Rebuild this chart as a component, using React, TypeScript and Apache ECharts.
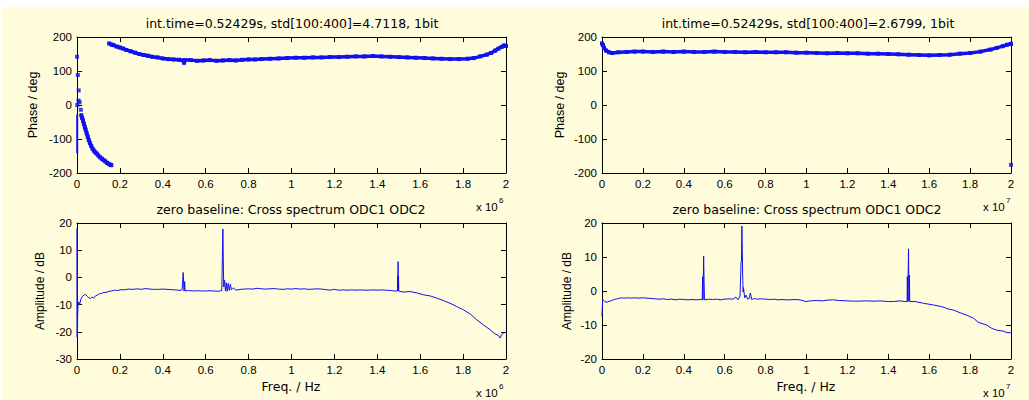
import React, { useEffect, useRef } from "react";
import * as echarts from "echarts";

// ---------- DATA (frequency in units of the axis exponent) ----------
const titlesTop = [
  "int.time=0.52429s, std[100:400]=4.7118, 1bit",
  "int.time=0.52429s, std[100:400]=2.6799, 1bit",
];
const titlesBottom = [
  "zero baseline: Cross spectrum ODC1 ODC2",
  "zero baseline: Cross spectrum ODC1 ODC2",
];
const exponents = ["6", "7"];
const freqTicks = [0, 0.2, 0.4, 0.6, 0.8, 1, 1.2, 1.4, 1.6, 1.8, 2];
const phaseTicks = [-200, -100, 0, 100, 200];
const ampTicksLeft = [-30, -20, -10, 0, 10, 20];
const ampTicksRight = [-20, -10, 0, 10, 20];

// Top-left phase: isolated points near DC
const phaseL0: [number, number][] = [
  [0, 142], [0.004, 88], [0.008, 43], [0.007, 13], [0.001, 0], [0.012, 8], [0.018, -14],
];
// near-DC vertical trace
const phaseL0b: [number, number][] = [
  [0.001, -28], [0.001, -142],
];
// Top-left phase: low-frequency branch
const phaseL1: [number, number][] = [
  [0.020, -30], [0.024, -38], [0.028, -46], [0.032, -55], [0.036, -64], [0.040, -72],
  [0.045, -83], [0.050, -93], [0.055, -103], [0.060, -112], [0.066, -120], [0.072, -128],
  [0.078, -134], [0.085, -139], [0.092, -143], [0.100, -149], [0.108, -154], [0.116, -158],
  [0.124, -162], [0.132, -166], [0.140, -170], [0.148, -173], [0.156, -176], [0.160, -177],
];
// Top-left phase: main branch
const phaseL2: [number, number][] = [
  [0.150, 181], [0.160, 178], [0.170, 176], [0.185, 172], [0.200, 169], [0.215, 166],
  [0.230, 162], [0.250, 158], [0.270, 154], [0.290, 150], [0.310, 147], [0.330, 145],
  [0.350, 142], [0.375, 140], [0.400, 137], [0.425, 135], [0.450, 134], [0.475, 133],
  [0.495, 131], [0.499, 124], [0.503, 132], [0.530, 132], [0.560, 130], [0.590, 131],
  [0.620, 132], [0.650, 130], [0.680, 131], [0.710, 132], [0.740, 131], [0.770, 133],
  [0.800, 134], [0.830, 134], [0.860, 135], [0.900, 136], [0.940, 137], [0.980, 138],
  [1.020, 139], [1.060, 139], [1.100, 140], [1.140, 140], [1.180, 141], [1.220, 141],
  [1.260, 142], [1.300, 143], [1.340, 143], [1.380, 144], [1.420, 143], [1.460, 142],
  [1.500, 141], [1.540, 140], [1.580, 139], [1.620, 138], [1.660, 137], [1.700, 136],
  [1.740, 135], [1.780, 135], [1.820, 136], [1.850, 138], [1.880, 143], [1.910, 148],
  [1.930, 153], [1.950, 160], [1.965, 166], [1.980, 171], [1.990, 175], [2.000, 174],
];
// Top-right phase
const phaseR1: [number, number][] = [
  [0.000, 181], [0.005, 176], [0.010, 168], [0.020, 160], [0.035, 155], [0.050, 153],
  [0.080, 155], [0.120, 156], [0.160, 157], [0.200, 157], [0.250, 156], [0.300, 157],
  [0.350, 156], [0.400, 157], [0.450, 156], [0.500, 156], [0.550, 157], [0.600, 156],
  [0.650, 156], [0.700, 155], [0.750, 156], [0.800, 155], [0.850, 155], [0.900, 155],
  [0.950, 154], [1.000, 154], [1.050, 153], [1.100, 152], [1.150, 153], [1.200, 152],
  [1.250, 152], [1.300, 151], [1.350, 151], [1.400, 150], [1.450, 149], [1.500, 148],
  [1.550, 147], [1.600, 146], [1.650, 147], [1.700, 148], [1.750, 151], [1.800, 153],
  [1.850, 157], [1.900, 163], [1.930, 168], [1.960, 173], [1.980, 177], [2.000, 180],
];
const phaseR2: [number, number][] = [[2.0, -176]];

// Bottom-left amplitude
const ampL: [number, number][] = [
  [0.000, -22], [0.0005, 18], [0.001, 7], [0.0015, -8], [0.002, -22], [0.003, -14],
  [0.005, -10], [0.008, -9], [0.012, -10], [0.018, -8], [0.025, -7], [0.032, -6.5],
  [0.040, -6.3], [0.048, -7.0], [0.055, -7.5], [0.062, -7.8], [0.070, -7.2], [0.078, -7.6],
  [0.086, -6.8], [0.095, -6.5], [0.105, -6.0], [0.115, -5.9], [0.125, -5.5], [0.135, -5.6],
  [0.145, -5.2], [0.160, -5.0], [0.175, -4.7], [0.190, -4.8], [0.205, -4.5], [0.220, -4.6],
  [0.240, -4.3], [0.260, -4.4], [0.280, -4.2], [0.300, -4.4], [0.320, -4.1], [0.340, -4.3],
  [0.360, -4.4], [0.380, -4.4], [0.400, -4.3], [0.420, -4.4], [0.440, -4.5], [0.460, -4.6],
  [0.480, -4.8], [0.490, -4.5], [0.495, 1.8], [0.497, 1.8], [0.499, -5.0], [0.502, -1.5],
  [0.504, -5.0], [0.520, -4.8], [0.540, -5.0], [0.560, -4.9], [0.580, -5.0], [0.600, -5.0],
  [0.620, -4.9], [0.640, -5.0], [0.660, -5.1], [0.675, -4.8], [0.680, 17.8], [0.682, 7.0],
  [0.684, -3.5], [0.688, -1.0], [0.692, -5.0], [0.696, -2.0], [0.700, -5.1], [0.705, -2.2],
  [0.710, -4.8], [0.715, -2.5], [0.720, -4.6], [0.730, -3.8], [0.740, -4.7], [0.760, -4.4],
  [0.780, -4.3], [0.800, -4.2], [0.820, -4.3], [0.840, -4.0], [0.860, -4.2], [0.880, -4.3],
  [0.900, -4.2], [0.920, -4.1], [0.940, -4.3], [0.960, -4.4], [0.980, -4.2], [1.000, -4.3],
  [1.020, -4.1], [1.040, -4.3], [1.060, -4.2], [1.080, -4.4], [1.100, -4.3], [1.120, -4.2],
  [1.140, -4.3], [1.160, -4.5], [1.180, -4.7], [1.200, -4.4], [1.220, -4.7], [1.240, -4.6],
  [1.260, -4.7], [1.280, -4.6], [1.300, -4.7], [1.320, -4.6], [1.340, -4.7], [1.360, -4.7],
  [1.380, -4.6], [1.400, -4.7], [1.420, -4.6], [1.440, -4.7], [1.460, -4.8], [1.480, -5.0],
  [1.494, -5.0], [1.495, 0.5], [1.496, -5.0], [1.497, 5.8], [1.498, -5.0], [1.499, 0.5],
  [1.500, -5.0], [1.510, -5.2], [1.521, -5.4], [1.552, -5.2], [1.584, -5.7], [1.615, -6.4],
  [1.646, -6.8], [1.677, -7.6], [1.708, -8.5], [1.739, -9.5], [1.770, -10.7], [1.801, -11.9],
  [1.832, -13.4], [1.864, -15.6], [1.894, -17.4], [1.925, -19.2], [1.949, -20.8], [1.964, -21.3],
  [1.972, -22.3], [1.980, -21.0], [1.988, -20.5], [2.000, -20.1],
];

// Bottom-right amplitude
const ampR: [number, number][] = [
  [0.000, -7.5], [0.003, -2.4], [0.008, -2.8], [0.015, -3.2], [0.025, -3.3], [0.035, -3.0],
  [0.045, -2.9], [0.055, -2.6], [0.065, -2.4], [0.080, -2.2], [0.095, -2.0], [0.110, -2.1],
  [0.125, -2.0], [0.140, -2.1], [0.160, -2.0], [0.180, -2.1], [0.200, -2.0], [0.220, -2.1],
  [0.240, -2.2], [0.260, -2.3], [0.280, -2.4], [0.300, -2.3], [0.320, -2.5], [0.340, -2.4],
  [0.360, -2.6], [0.380, -2.4], [0.400, -2.5], [0.420, -2.6], [0.440, -2.5], [0.460, -2.6],
  [0.480, -2.5], [0.490, -2.6], [0.492, 4.2], [0.494, -2.6], [0.497, 10.3], [0.499, 3.5],
  [0.501, -2.6], [0.520, -2.4], [0.540, -2.5], [0.560, -2.4], [0.580, -2.6], [0.600, -2.4],
  [0.620, -2.3], [0.640, -2.4], [0.655, -1.8], [0.665, -2.6], [0.675, -1.5], [0.680, 8.6],
  [0.682, 8.8], [0.684, 19.1], [0.686, 12.0], [0.688, 4.2], [0.690, -0.3], [0.692, 1.0],
  [0.694, -0.2], [0.698, -2.0], [0.705, -1.2], [0.712, -2.4], [0.720, -2.2], [0.725, -0.6],
  [0.728, -1.2], [0.732, -2.5], [0.745, -2.2], [0.760, -2.4], [0.780, -2.3], [0.800, -2.4],
  [0.820, -2.5], [0.840, -2.4], [0.860, -2.6], [0.880, -2.5], [0.900, -2.6], [0.920, -2.6],
  [0.940, -2.5], [0.968, -2.6], [0.997, -3.1], [1.020, -2.9], [1.050, -2.8], [1.080, -2.9],
  [1.100, -2.7], [1.131, -2.6], [1.160, -2.8], [1.200, -2.9], [1.240, -3.0], [1.294, -2.9],
  [1.330, -3.0], [1.360, -2.9], [1.400, -3.1], [1.424, -3.1], [1.457, -2.9], [1.480, -3.1],
  [1.492, -3.1], [1.493, 4.3], [1.495, -3.1], [1.497, 4.5], [1.499, 12.4], [1.501, -3.0],
  [1.503, 4.7], [1.505, -3.1], [1.531, -3.1], [1.571, -3.6], [1.620, -4.1], [1.661, -4.6],
  [1.694, -5.3], [1.718, -5.6], [1.751, -6.4], [1.783, -7.1], [1.816, -8.0], [1.840, -9.2],
  [1.881, -10.0], [1.906, -11.0], [1.930, -11.5], [1.962, -11.8], [1.979, -12.2], [2.000, -12.3],
];

// ---------- STYLE ----------
const FONT = "Liberation Sans, Arial, Helvetica, sans-serif";
const WIDE = "DejaVu Sans, Verdana, sans-serif";
const BLUE = "#1010f0";
const BG = "#fffcdc";

const grids = [
  { left: 77, top: 37, width: 429, height: 136 },
  { left: 602, top: 37, width: 409, height: 136 },
  { left: 77, top: 223, width: 429, height: 136 },
  { left: 602, top: 223, width: 409, height: 136 },
];

function fmt(v: number) {
  return String(Math.round(v * 10) / 10);
}

function makeXAxes(gi: number) {
  const base = {
    type: "value",
    gridIndex: gi,
    min: freqTicks[0],
    max: freqTicks[freqTicks.length - 1],
    interval: 0.2,
    splitLine: { show: false },
    axisLine: { show: true, onZero: false, lineStyle: { color: "#000", width: 1 } },
    axisTick: { show: true, inside: true, length: 5, lineStyle: { color: "#000" } },
  };
  return [
    {
      ...base,
      position: "bottom",
      axisLabel: {
        show: true,
        color: "#000",
        fontFamily: FONT,
        fontSize: 11.5,
        margin: 5,
        formatter: fmt,
        showMinLabel: true,
        showMaxLabel: true,
        hideOverlap: false,
      },
    },
    { ...base, position: "top", axisLabel: { show: false } },
  ];
}

function makeYAxes(gi: number, ticks: number[]) {
  const base = {
    type: "value",
    gridIndex: gi,
    min: ticks[0],
    max: ticks[ticks.length - 1],
    interval: ticks[1] - ticks[0],
    splitLine: { show: false },
    axisLine: { show: true, onZero: false, lineStyle: { color: "#000", width: 1 } },
    axisTick: { show: true, inside: true, length: 5, lineStyle: { color: "#000" } },
  };
  return [
    {
      ...base,
      position: "left",
      axisLabel: {
        show: true,
        color: "#000",
        fontFamily: FONT,
        fontSize: 11.5,
        margin: 5,
        showMinLabel: true,
        showMaxLabel: true,
      },
    },
    { ...base, position: "right", axisLabel: { show: false } },
  ];
}

function txt(
  x: number,
  y: number,
  text: string,
  size = 11,
  rotation = 0,
  align = "center",
  family = FONT
) {
  return {
    type: "text",
    x,
    y,
    rotation,
    silent: true,
    style: {
      text,
      fill: "#000",
      font: `${size}px ${family}`,
      align,
      verticalAlign: "middle",
    },
  };
}

export default function App() {
  const ref = useRef<HTMLDivElement>(null);

  useEffect(() => {
    if (!ref.current) return;
    const chart = echarts.init(ref.current, null, { renderer: "svg" });

    const xAxis = [0, 1, 2, 3].flatMap((i) => makeXAxes(i));
    const yAxis = [
      ...makeYAxes(0, phaseTicks),
      ...makeYAxes(1, phaseTicks),
      ...makeYAxes(2, ampTicksLeft),
      ...makeYAxes(3, ampTicksRight),
    ];

    const phaseLine = (data: [number, number][], gi: number) => ({
      type: "line",
      xAxisIndex: gi * 2,
      yAxisIndex: gi * 2,
      data,
      symbol: "rect",
      symbolSize: 4,
      showSymbol: true,
      itemStyle: { color: BLUE },
      lineStyle: { color: BLUE, width: 3.5 },
      silent: true,
      clip: false,
    });
    const phaseDots = (data: [number, number][], gi: number) => ({
      type: "scatter",
      xAxisIndex: gi * 2,
      yAxisIndex: gi * 2,
      data,
      symbol: "rect",
      symbolSize: 4,
      itemStyle: { color: BLUE },
      silent: true,
      clip: false,
    });
    const ampLine = (data: [number, number][], gi: number) => ({
      type: "line",
      xAxisIndex: gi * 2,
      yAxisIndex: gi * 2,
      data,
      showSymbol: false,
      symbol: "none",
      lineStyle: { color: BLUE, width: 1 },
      silent: true,
    });

    const series = [
      phaseDots(phaseL0, 0),
      { ...ampLine(phaseL0b, 0), lineStyle: { color: BLUE, width: 2 } },
      phaseLine(phaseL1, 0),
      phaseLine(phaseL2, 0),
      phaseLine(phaseR1, 1),
      phaseDots(phaseR2, 1),
      ampLine(ampL, 2),
      ampLine(ampR, 3),
    ];

    const graphic: any[] = [
      {
        type: "rect",
        shape: { x: 2, y: 7, width: 1027, height: 393 },
        style: { fill: BG },
        z: -10,
        silent: true,
      },
      txt(292, 23, titlesTop[0], 12.5, 0, "center", WIDE),
      txt(808, 23, titlesTop[1], 12.5, 0, "center", WIDE),
      txt(291, 209, titlesBottom[0], 12.5, 0, "center", WIDE),
      txt(807, 209, titlesBottom[1], 12.5, 0, "center", WIDE),
      txt(33, 105, "Phase / deg", 12.5, Math.PI / 2),
      txt(560, 105, "Phase / deg", 12.5, Math.PI / 2),
      txt(40, 291, "Amplitude / dB", 12, Math.PI / 2),
      txt(567, 291, "Amplitude / dB", 12, Math.PI / 2),
      txt(291, 386, "Freq. / Hz", 12.5, 0, "center", WIDE),
      txt(806, 386, "Freq. / Hz", 12.5, 0, "center", WIDE),
      // exponent labels
      txt(476, 207, "x 10", 11.5, 0, "left"),
      txt(499, 200, exponents[0], 8, 0, "left"),
      txt(476, 393, "x 10", 11.5, 0, "left"),
      txt(499, 386, exponents[0], 8, 0, "left"),
      txt(983, 207, "x 10", 11.5, 0, "left"),
      txt(1006, 200, exponents[1], 8, 0, "left"),
      txt(983, 393, "x 10", 11.5, 0, "left"),
      txt(1006, 386, exponents[1], 8, 0, "left"),
    ];

    chart.setOption({
      animation: false,
      backgroundColor: "#ffffff",
      grid: grids.map((g) => ({ ...g, containLabel: false })),
      xAxis,
      yAxis,
      series,
      graphic,
    });

    return () => chart.dispose();
  }, []);

  return (
    <div
      ref={ref}
      style={{ position: "absolute", left: 0, top: 0, width: 1029, height: 400 }}
    />
  );
}
